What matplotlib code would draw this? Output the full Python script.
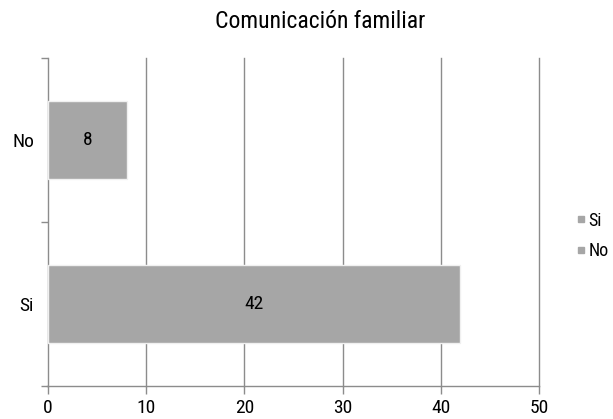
import numpy as np
import matplotlib
matplotlib.use("Agg")
import matplotlib.pyplot as plt
from matplotlib.lines import Line2D

# data
categorias = ["Si", "No"]
valores = [42, 8]
titulo = "Comunicación familiar"
xticks = [0, 10, 20, 30, 40, 50]

plt.rcParams['font.family'] = ['Roboto Condensed', 'Liberation Sans', 'DejaVu Sans']

gris = "#a6a6a6"
linea = "#8c8c8c"

fig = plt.figure(figsize=(6.13, 4.19), dpi=100)
ax = fig.add_axes([48/613, 33/419, (539-48)/613, (386-58)/419])

y = np.arange(len(categorias))
bars = ax.barh(y, valores, height=0.48, color=gris, edgecolor="#f0f0f0", linewidth=1, zorder=3)
for b, v in zip(bars, valores):
    ax.text(b.get_width()/2, b.get_y()+b.get_height()/2, str(v),
            ha="center", va="center", fontsize=14, color="black", zorder=4)

ax.set_xlim(0, 50)
ax.set_ylim(-0.5, 1.5)
ax.set_xticks(xticks)
ax.set_xticklabels([str(t) for t in xticks], fontsize=14)
ax.set_yticks(y)
ax.set_yticklabels(categorias, fontsize=14)
ax.set_yticks([-0.5, 0.5, 1.5], minor=True)
ax.tick_params(axis="y", which="major", length=0, pad=10)
ax.tick_params(axis="y", which="minor", length=5, color=linea, width=1)
ax.tick_params(axis="x", length=6, color=linea, width=1, pad=3)

# vertical grid lines, the last one stands in for the right border
for t in xticks[1:]:
    ax.axvline(t, color=linea, linewidth=1, zorder=1, clip_on=False)

for s in ["top", "right"]:
    ax.spines[s].set_visible(False)
for s in ["left", "bottom"]:
    ax.spines[s].set_color(linea)
    ax.spines[s].set_linewidth(1)
ax.spines["bottom"].set_bounds(-0.1, 50)

fig.text(320/613, 1-22/419, titulo, ha="center", va="center", fontsize=17)

handles = [Line2D([], [], marker="s", linestyle="none", color=gris, markersize=5) for _ in categorias]
fig.legend(handles, categorias, loc="center left", bbox_to_anchor=(576/613, 1-236/419),
           frameon=False, fontsize=13, borderpad=0, borderaxespad=0,
           handletextpad=0.2, labelspacing=0.7, handlelength=0.5)

fig.savefig("out.png", dpi=100)
